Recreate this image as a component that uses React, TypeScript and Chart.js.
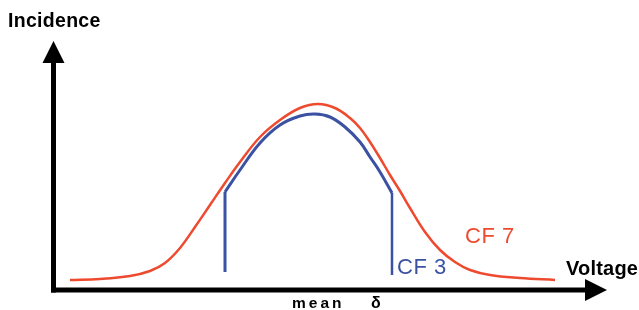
import React, { useEffect, useRef } from "react";
import { Chart, registerables } from "chart.js";
Chart.register(...registerables);

const W = 639;
const H = 310;

// Red curve (CF 7): voltage / incidence (arbitrary units)
const VOLTAGE_CF7 = [70, 100, 130, 150, 165, 180, 195, 210, 225, 240, 260, 280, 300, 318, 335, 350, 360, 370, 380, 390, 400, 410, 425, 440, 455, 470, 490, 520, 555];
const INCIDENCE_CF7 = [30, 31, 34, 39, 47, 62, 83, 105, 127, 148, 173, 190, 202, 206, 202, 192, 182, 168, 152, 135, 119, 102, 78, 60, 48, 40, 35, 32, 30];

// Blue curve (CF 3): truncated curve with vertical sides
const VOLTAGE_CF3 = [225, 240, 260, 280, 300, 315, 330, 345, 360, 370, 380, 392];
const INCIDENCE_CF3 = [118, 140, 167, 185, 194, 196, 193, 183, 168, 153, 138, 117];
const CF3_LEFT_X = [225, 225];
const CF3_LEFT_Y = [38, 118];
const CF3_RIGHT_X = [392, 392];
const CF3_RIGHT_Y = [117, 35];

const RED = "#ee4a2f";
const BLUE = "#3b52a3";

// Axes (data units)
const AXIS_ORIGIN = { x: 53.5, y: 20 };
const Y_AXIS_TIP = 269;
const X_AXIS_TIP = 607;
const ARROW_LEN = 22;
const ARROW_HALF = 11;

const FONT = "'Liberation Sans', Arial, sans-serif";
const LABELS = [
  { text: "Incidence", x: 8, y: 283, font: `bold 19.5px ${FONT}`, color: "#000", spacing: "0.3px" },
  { text: "Voltage", x: 566, y: 35, font: `bold 20px ${FONT}`, color: "#000", spacing: "0.2px" },
  { text: "mean", x: 292, y: 2, font: `bold 15.5px ${FONT}`, color: "#000", spacing: "3px" },
  { text: "δ", x: 371, y: 2, font: `bold 16px ${FONT}`, color: "#000", spacing: "0px" },
  { text: "CF 3", x: 397, y: 36, font: `22px ${FONT}`, color: BLUE, spacing: "0.5px" },
  { text: "CF 7", x: 465, y: 67, font: `22px ${FONT}`, color: RED, spacing: "0.5px" },
];

const zip = (xs: number[], ys: number[]) => xs.map((x, i) => ({ x, y: ys[i] }));

const decorPlugin = {
  id: "decor",
  beforeDatasetsDraw(chart: any) {
    const { ctx, scales } = chart;
    const sx = (v: number) => scales.x.getPixelForValue(v);
    const sy = (v: number) => scales.y.getPixelForValue(v);
    const ox = sx(AXIS_ORIGIN.x);
    const oy = sy(AXIS_ORIGIN.y);
    ctx.save();
    ctx.strokeStyle = "#000";
    ctx.fillStyle = "#000";
    ctx.lineWidth = 5;
    ctx.lineCap = "butt";
    // y axis
    const yTip = sy(Y_AXIS_TIP);
    ctx.beginPath();
    ctx.moveTo(ox, oy + 2.5);
    ctx.lineTo(ox, yTip + ARROW_LEN);
    ctx.stroke();
    ctx.beginPath();
    ctx.moveTo(ox, yTip);
    ctx.lineTo(ox - ARROW_HALF, yTip + ARROW_LEN);
    ctx.lineTo(ox + ARROW_HALF, yTip + ARROW_LEN);
    ctx.closePath();
    ctx.fill();
    // x axis
    const xTip = sx(X_AXIS_TIP);
    ctx.beginPath();
    ctx.moveTo(ox - 2.5, oy);
    ctx.lineTo(xTip - ARROW_LEN, oy);
    ctx.stroke();
    ctx.beginPath();
    ctx.moveTo(xTip, oy);
    ctx.lineTo(xTip - ARROW_LEN, oy - ARROW_HALF);
    ctx.lineTo(xTip - ARROW_LEN, oy + ARROW_HALF);
    ctx.closePath();
    ctx.fill();
    ctx.restore();
  },
  afterDatasetsDraw(chart: any) {
    const { ctx, scales } = chart;
    ctx.save();
    ctx.textAlign = "left";
    ctx.textBaseline = "alphabetic";
    for (const l of LABELS) {
      ctx.font = l.font;
      ctx.fillStyle = l.color;
      try { (ctx as any).letterSpacing = l.spacing; } catch (e) {}
      ctx.fillText(l.text, scales.x.getPixelForValue(l.x), scales.y.getPixelForValue(l.y));
    }
    ctx.restore();
  },
};

export default function App() {
  const ref = useRef<HTMLCanvasElement>(null);
  useEffect(() => {
    const common = { pointRadius: 0, fill: false, tension: 0.4 };
    const chart = new Chart(ref.current!, {
      type: "line",
      data: {
        datasets: [
          { ...common, data: zip(VOLTAGE_CF7, INCIDENCE_CF7), borderColor: RED, borderWidth: 2.5 },
          { ...common, data: zip(VOLTAGE_CF3, INCIDENCE_CF3), borderColor: BLUE, borderWidth: 3 },
          { ...common, data: zip(CF3_LEFT_X, CF3_LEFT_Y), borderColor: BLUE, borderWidth: 3, tension: 0 },
          { ...common, data: zip(CF3_RIGHT_X, CF3_RIGHT_Y), borderColor: BLUE, borderWidth: 2.5, tension: 0 },
        ],
      },
      options: {
        responsive: false,
        animation: false,
        events: [],
        layout: { padding: 0 },
        plugins: { legend: { display: false }, tooltip: { enabled: false } },
        scales: {
          x: { type: "linear", min: 0, max: W, display: false },
          y: { type: "linear", min: 0, max: H, display: false },
        },
      },
      plugins: [decorPlugin],
    });
    return () => chart.destroy();
  }, []);
  return (
    <div style={{ position: "fixed", left: 0, top: 0, width: W, height: H, background: "#fff" }}>
      <canvas ref={ref} width={W} height={H} style={{ width: W, height: H, display: "block" }} />
    </div>
  );
}
